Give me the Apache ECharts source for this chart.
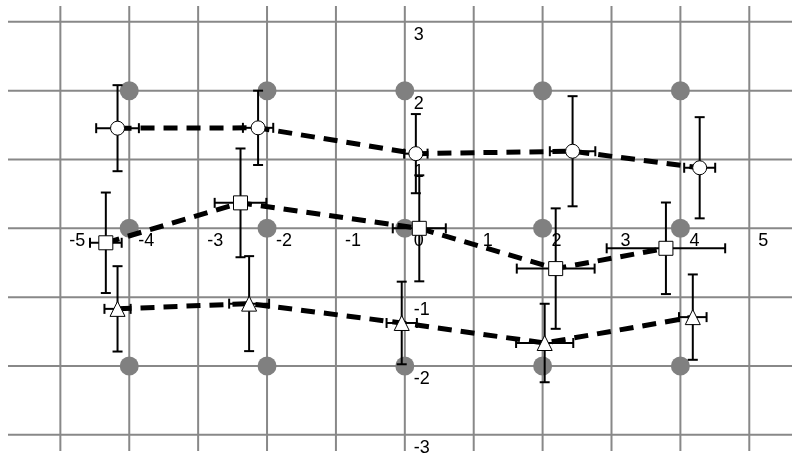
<!DOCTYPE html>
<html>
<head>
<meta charset="utf-8">
<script src="https://cdn.jsdelivr.net/npm/echarts@6/dist/echarts.min.js"></script>
<style>
  html, body { margin: 0; padding: 0; background: #ffffff; }
  #chart { width: 792px; height: 458px; }
</style>
</head>
<body>
<div id="chart"></div>
<script>
// Axis extents and grid tick values
const xMin = -5.76, xMax = 5.62;
const yMin = -3.235, yMax = 3.23;
const xTicks = [-5, -4, -3, -2, -1, 0, 1, 2, 3, 4, 5];
const yTicks = [-3, -2, -1, 0, 1, 2, 3];
const xLabels = [-5, -4, -3, -2, -1, 0, 1, 2, 3, 4, 5];
const yLabels = [3, 2, 1, -1, -2, -3];

// Gray reference dots
const dotX = [-4, -2, 0, 2, 4];
const dotY = [2, 0, -2];

// Circle series
const circX  = [-4.17, -2.13, 0.16, 2.435, 4.28];
const circY  = [1.455, 1.46, 1.085, 1.12, 0.88];
const circXe = [0.31, 0.22, 0.17, 0.33, 0.225];
const circYe = [0.625, 0.54, 0.575, 0.8, 0.735];

// Square series
const sqX  = [-4.34, -2.385, 0.21, 2.19, 3.79];
const sqY  = [-0.21, 0.37, 0.0, -0.585, -0.29];
const sqXe = [0.23, 0.375, 0.385, 0.565, 0.86];
const sqYe = [0.73, 0.79, 0.77, 0.875, 0.665];

// Triangle series
const triX  = [-4.17, -2.26, -0.045, 2.03, 4.18];
const triY  = [-1.17, -1.094, -1.375, -1.666, -1.29];
const triXe = [0.19, 0.29, 0.22, 0.415, 0.2];
const triYe = [0.62, 0.69, 0.6, 0.57, 0.62];

const FONT = '18px "Liberation Sans", Arial, sans-serif';

function zipPoints(xs, ys) { return xs.map((x, i) => [x, ys[i]]); }
function zipErr(xs, ys, xe, ye) { return xs.map((x, i) => [x, ys[i], xe[i], ye[i]]); }

const gridData = [];
xTicks.forEach(v => gridData.push([0, v]));
yTicks.forEach(v => gridData.push([1, v]));

const labelData = [];
xLabels.forEach(v => labelData.push([0, v]));
yLabels.forEach(v => labelData.push([1, v]));

const dotData = [];
dotY.forEach(y => dotX.forEach(x => dotData.push([x, y])));

function renderGrid(params, api) {
  const kind = api.value(0), v = api.value(1);
  let a, b;
  if (kind === 0) { a = api.coord([v, yMin]); b = api.coord([v, yMax]); }
  else { a = api.coord([xMin, v]); b = api.coord([xMax, v]); }
  return {
    type: 'line',
    shape: { x1: a[0], y1: a[1], x2: b[0], y2: b[1] },
    style: { stroke: '#888888', lineWidth: 2 }
  };
}

function renderLabel(params, api) {
  const kind = api.value(0), v = api.value(1);
  const p = kind === 0 ? api.coord([v, 0]) : api.coord([0, v]);
  return {
    type: 'text',
    style: {
      text: String(v), x: p[0] + 9, y: p[1] + 13,
      font: FONT, fill: '#000', align: 'left', verticalAlign: 'middle'
    }
  };
}

function renderErr(params, api) {
  const x = api.value(0), y = api.value(1), xe = api.value(2), ye = api.value(3);
  const l = api.coord([x - xe, y]), r = api.coord([x + xe, y]);
  const t = api.coord([x, y + ye]), b = api.coord([x, y - ye]);
  const c = 5;
  const st = { stroke: '#000', lineWidth: 2 };
  const seg = (x1, y1, x2, y2) => ({ type: 'line', shape: { x1, y1, x2, y2 }, style: st });
  return {
    type: 'group',
    children: [
      seg(l[0], l[1], r[0], r[1]),
      seg(t[0], t[1], b[0], b[1]),
      seg(l[0], l[1] - c, l[0], l[1] + c),
      seg(r[0], r[1] - c, r[0], r[1] + c),
      seg(t[0] - c, t[1], t[0] + c, t[1]),
      seg(b[0] - c, b[1], b[0] + c, b[1])
    ]
  };
}

function dashed(xs, ys) {
  return {
    type: 'line', data: zipPoints(xs, ys), symbol: 'none', z: 4,
    lineStyle: { color: '#000', width: 5, type: [14, 9], cap: 'butt' }
  };
}
function errSeries(xs, ys, xe, ye) {
  return { type: 'custom', data: zipErr(xs, ys, xe, ye), renderItem: renderErr, z: 5 };
}
function markers(xs, ys, sym, size) {
  return {
    type: 'scatter', data: zipPoints(xs, ys), symbol: sym, symbolSize: size, z: 6,
    itemStyle: { color: '#fff', borderColor: '#000', borderWidth: 1, opacity: 1 }
  };
}

const chart = echarts.init(document.getElementById('chart'), null, { renderer: 'canvas' });
chart.setOption({
  animation: false,
  backgroundColor: '#ffffff',
  grid: { left: 8, right: 0, top: 6, bottom: 7, containLabel: false },
  xAxis: { type: 'value', min: xMin, max: xMax, show: false },
  yAxis: { type: 'value', min: yMin, max: yMax, show: false },
  series: [
    { type: 'custom', data: gridData, renderItem: renderGrid, z: 1, silent: true },
    { type: 'scatter', data: dotData, symbol: 'circle', symbolSize: 19, z: 2,
      itemStyle: { color: '#808080', opacity: 1 } },
    { type: 'custom', data: labelData, renderItem: renderLabel, z: 3, silent: true },
    dashed(circX, circY),
    dashed(sqX, sqY),
    dashed(triX, triY),
    errSeries(circX, circY, circXe, circYe),
    errSeries(sqX, sqY, sqXe, sqYe),
    errSeries(triX, triY, triXe, triYe),
    markers(circX, circY, 'circle', 14),
    markers(sqX, sqY, 'rect', 14),
    markers(triX, triY, 'triangle', 15)
  ]
});
</script>
</body>
</html>
